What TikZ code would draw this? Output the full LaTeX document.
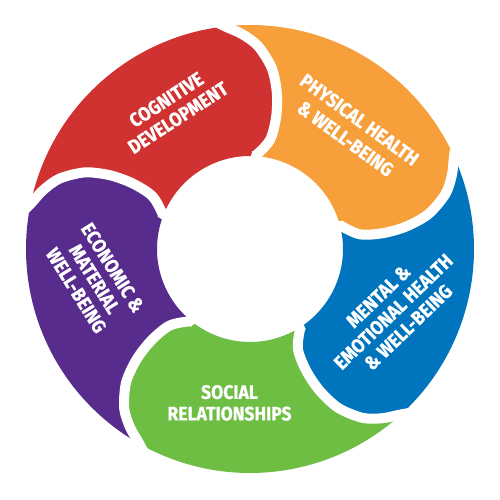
\documentclass[tikz,border=0pt]{standalone}
\usepackage{fontspec}
\newfontfamily\labfont{Fira Sans}[FakeStretch=0.9, FakeBold=0.6]
\definecolor{cred}{RGB}{208,50,49}
\definecolor{corange}{RGB}{247,160,59}
\definecolor{cblue}{RGB}{0,117,190}
\definecolor{cgreen}{RGB}{110,190,68}
\definecolor{cpurple}{RGB}{88,44,141}
\tikzset{
  lab/.style={text=white, align=center, inner sep=0pt,
    font=\labfont\bfseries\fontsize{19.5}{21.5}\selectfont},
  gap/.style={white, line width=10pt}
}
\begin{document}
\begin{tikzpicture}[x=1pt,y=1pt]
\fill[white] (-250,-251) rectangle (250,249);
\useasboundingbox (-250,-251) rectangle (250,249);
% coloured segments: tail boundary at offset \a, head boundary at offset \b
\foreach \k/\col in {0/corange,1/cblue,2/cgreen,3/cpurple,4/cred}{
  \pgfmathsetmacro\a{-72*\k}
  \pgfmathsetmacro\b{-72*\k-72}
  \fill[\col] ({96.4+\a}:224) arc[start angle={96.4+\a}, end angle={24.4+\a}, radius=224]
    -- plot[smooth] coordinates {({96.4+\b}:224) ({92.1+\b}:215) ({87.7+\b}:203) ({83.1+\b}:182) ({80.2+\b}:158) ({78.8+\b}:134) ({79.6+\b}:111) ({86.3+\b}:94) ({89.4+\b}:93)}
    arc[start angle={89.4+\b}, end angle={89.4+\a}, radius=93]
    -- plot[smooth] coordinates {({89.4+\a}:93) ({86.3+\a}:94) ({79.6+\a}:111) ({78.8+\a}:134) ({80.2+\a}:158) ({83.1+\a}:182) ({87.7+\a}:203) ({92.1+\a}:215) ({96.4+\a}:224)}
    -- cycle;
}
% white gaps between segments
\foreach \k in {0,...,4}{
  \pgfmathsetmacro\a{-72*\k}
  \draw[gap] plot[smooth] coordinates {({100.3+\a}:235) ({96.4+\a}:224) ({92.1+\a}:215) ({87.7+\a}:203) ({83.1+\a}:182) ({80.2+\a}:158) ({78.8+\a}:134) ({79.6+\a}:111) ({86.3+\a}:94) ({89.4+\a}:93)};
}
% labels
\node[lab, rotate=33] (tred) at (-77.9,140.3) {COGNITIVE\\DEVELOPMENT};
\node[lab, rotate=-36, font=\labfont\bfseries\fontsize{19.5}{23.5}\selectfont] (torange) at (102.5,119.8) {PHYSICAL HEALTH\\\& WELL-BEING};
\node[lab, rotate=44] (tblue) at (143.3,-62.7) {MENTAL \&\\EMOTIONAL HEALTH\\\& WELL-BEING};
\node[lab] (tgreen) at (-20.5,-153.9) {SOCIAL\\RELATIONSHIPS};
\node[lab, rotate=-58] (tpurple) at (-155.5,-30) {ECONOMIC \&\\MATERIAL\\WELL-BEING};
\end{tikzpicture}
\end{document}
